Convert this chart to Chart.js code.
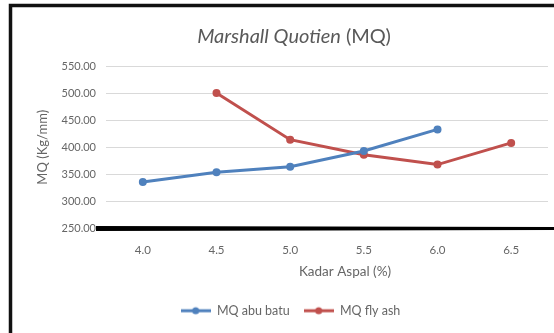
<!DOCTYPE html>
<html>
<head>
<meta charset="utf-8">
<title>Marshall Quotien (MQ)</title>
<script src="https://cdn.jsdelivr.net/npm/chart.js@4.4.1/dist/chart.umd.min.js"></script>
<style>
  html, body { margin: 0; padding: 0; background: #fff; }
  #wrap { width: 554px; height: 333px; position: relative; }
</style>
</head>
<body>
<div id="wrap"><canvas id="mqChart"></canvas></div>
<script>
const kadarAspal = ["4.0", "4.5", "5.0", "5.5", "6.0", "6.5"];
const mqAbuBatu = [336, 354, 364, 393, 433, null];
const mqFlyAsh = [null, 500, 414, 386, 368, 408];
const yTicks = [250, 300, 350, 400, 450, 500, 550];

const BLUE = "#4F81BD";
const RED = "#C0504D";
const TEXT = "#666666";
const FONT = "Lato";

// small line + dot sample for the legend, like the office-style legend keys
function legendKey(color) {
  const c = document.createElement("canvas");
  c.width = 30; c.height = 10;
  const g = c.getContext("2d");
  g.strokeStyle = color;
  g.lineWidth = 3;
  g.beginPath(); g.moveTo(0, 5); g.lineTo(30, 5); g.stroke();
  g.fillStyle = color;
  g.beginPath(); g.arc(15, 5, 3.5, 0, Math.PI * 2); g.fill();
  return c;
}

const decorations = {
  id: "decorations",
  afterDraw(chart) {
    const ctx = chart.ctx;
    const area = chart.chartArea;
    const y = chart.scales.y;
    ctx.save();

    // frame on the left and top
    ctx.strokeStyle = "#111";
    ctx.lineWidth = 3.5;
    ctx.beginPath();
    ctx.moveTo(10.5, 333);
    ctx.lineTo(10.5, 5.5);
    ctx.lineTo(554, 5.5);
    ctx.stroke();

    // heavy base line along 250
    const base = y.getPixelForValue(yTicks[0]);
    ctx.fillStyle = "#000";
    ctx.beginPath();
    ctx.moveTo(area.left - 10, base - 2.5);
    ctx.lineTo(554, base - 1.5);
    ctx.lineTo(554, base + 1.5);
    ctx.lineTo(area.left - 10, base + 2.5);
    ctx.closePath();
    ctx.fill();

    // title: italic name followed by upright abbreviation
    ctx.fillStyle = "#595959";
    ctx.textBaseline = "middle";
    ctx.font = "italic 20px " + FONT;
    const t1 = "Marshall Quotien";
    const w1 = ctx.measureText(t1).width;
    ctx.font = "20px " + FONT;
    const t2 = " (MQ)";
    const w2 = ctx.measureText(t2).width;
    let tx = 294 - (w1 + w2) / 2;
    ctx.textAlign = "left";
    ctx.font = "italic 20px " + FONT;
    ctx.fillText(t1, tx, 37);
    ctx.font = "20px " + FONT;
    ctx.fillText(t2, tx + w1, 37);

    // x axis title
    ctx.font = "13.5px " + FONT;
    ctx.fillStyle = TEXT;
    ctx.textAlign = "center";
    ctx.fillText("Kadar Aspal (%)", 345, 272);
    ctx.restore();
  }
};

new Chart(document.getElementById("mqChart"), {
  type: "line",
  data: {
    labels: kadarAspal,
    datasets: [
      {
        label: "MQ abu batu",
        data: mqAbuBatu,
        borderColor: BLUE,
        backgroundColor: BLUE,
        borderWidth: 3,
        pointRadius: 4,
        pointBackgroundColor: BLUE,
        pointBorderWidth: 0,
        tension: 0
      },
      {
        label: "MQ fly ash",
        data: mqFlyAsh,
        borderColor: RED,
        backgroundColor: RED,
        borderWidth: 3,
        pointRadius: 4,
        pointBackgroundColor: RED,
        pointBorderWidth: 0,
        tension: 0
      }
    ]
  },
  options: {
    responsive: true,
    maintainAspectRatio: false,
    animation: false,
    layout: { padding: { left: 33, right: 6, top: 66, bottom: 6 } },
    plugins: {
      title: { display: false },
      tooltip: { enabled: false },
      legend: {
        position: "bottom",
        labels: {
          font: { family: FONT, size: 12.5 },
          color: TEXT,
          usePointStyle: true,
          pointStyleWidth: 30,
          padding: 14,
          generateLabels(chart) {
            return chart.data.datasets.map((ds, i) => ({
              text: ds.label,
              pointStyle: legendKey(ds.borderColor),
              fillStyle: ds.borderColor,
              strokeStyle: ds.borderColor,
              lineWidth: 0,
              fontColor: TEXT,
              datasetIndex: i
            }));
          }
        }
      }
    },
    scales: {
      x: {
        offset: true,
        grid: { display: false },
        border: { display: false },
        ticks: { font: { family: FONT, size: 11.5 }, color: TEXT, padding: 7 },
        afterFit(scale) { scale.height = 62; }
      },
      y: {
        min: yTicks[0],
        max: yTicks[yTicks.length - 1],
        ticks: {
          stepSize: yTicks[1] - yTicks[0],
          font: { family: FONT, size: 11 },
          color: TEXT,
          padding: 10,
          callback: v => v.toFixed(2)
        },
        grid: { color: "#d9d9d9", lineWidth: 1, drawTicks: false },
        border: { display: false },
        title: {
          display: true,
          text: "MQ (Kg/mm)",
          font: { family: FONT, size: 13 },
          color: TEXT,
          padding: 2
        },
        afterFit(scale) { scale.width = 73; }
      }
    }
  },
  plugins: [decorations]
});
</script>
</body>
</html>
